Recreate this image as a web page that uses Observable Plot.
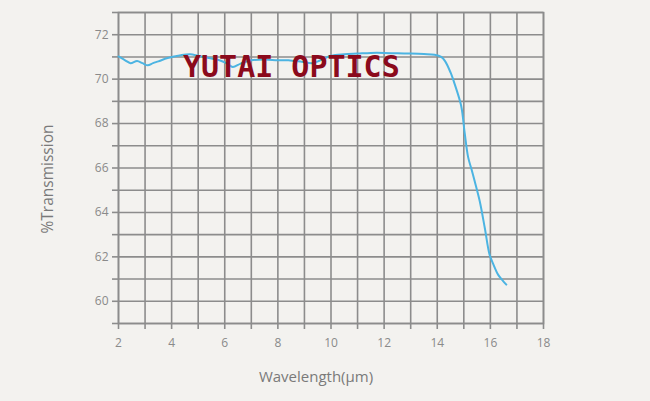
<!DOCTYPE html>
<html>
<head>
<meta charset="utf-8">
<script src="https://cdn.jsdelivr.net/npm/d3@7"></script>
<script src="https://cdn.jsdelivr.net/npm/@observablehq/plot@0.6"></script>
<style>
  html, body { margin: 0; padding: 0; background: #f3f2ef; }
  #chart { width: 650px; height: 401px; }
</style>
</head>
<body>
<div id="chart"></div>
<script>
const wavelength = [2.0, 2.25, 2.45, 2.7, 2.9, 3.1, 3.3, 3.5, 3.85, 4.35, 4.7, 5.0, 5.4, 5.8, 6.1, 6.3, 6.6, 7.0, 7.5, 8.0, 8.4, 8.9, 9.3, 9.6, 10.0, 10.5, 11.0, 11.5, 12.0, 12.5, 13.0, 13.5, 13.9, 14.15, 14.3, 14.5, 14.65, 14.9, 15.03, 15.16, 15.3, 15.41, 15.6, 15.79, 15.97, 16.1, 16.29, 16.45, 16.6];
const transmission = [71.02, 70.85, 70.72, 70.82, 70.72, 70.62, 70.72, 70.8, 70.95, 71.08, 71.12, 71.05, 70.95, 70.85, 70.7, 70.55, 70.7, 70.85, 70.88, 70.85, 70.85, 70.78, 70.72, 70.85, 71.05, 71.12, 71.15, 71.18, 71.18, 71.16, 71.15, 71.13, 71.1, 71.0, 70.8, 70.3, 69.8, 68.8, 67.6, 66.5, 65.9, 65.4, 64.5, 63.3, 62.1, 61.7, 61.2, 60.95, 60.75];
const xTicks = d3.range(2, 19, 1);
const yTicks = d3.range(59, 74, 1);
const xLabelTicks = [2, 4, 6, 8, 10, 12, 14, 16, 18];
const yLabelTicks = [60, 62, 64, 66, 68, 70, 72];
const xTitle = "Wavelength(μm)";
const yTitle = "%Transmission";
const watermark = "YUTAI OPTICS";

const data = wavelength.map((w, i) => ({w, t: transmission[i]}));
const gridColor = "#8c8c8c";
const textColor = "#8a8a8a";

const plot = Plot.plot({
  width: 650,
  height: 401,
  marginLeft: 118,
  marginRight: 107,
  marginTop: 12,
  marginBottom: 78,
  style: {background: "#f3f2ef", fontFamily: "Open Sans", fontSize: "12px", color: textColor},
  x: {domain: [2, 18]},
  y: {domain: [59, 73]},
  marks: [
    Plot.gridX(xTicks, {stroke: gridColor, strokeOpacity: 1, strokeWidth: 1.6}),
    Plot.gridY(yTicks, {stroke: gridColor, strokeOpacity: 1, strokeWidth: 1.6}),
    Plot.frame({stroke: gridColor, strokeWidth: 1.6}),
    Plot.axisX(xTicks, {tickSize: 6, tickPadding: 9, stroke: gridColor, strokeWidth: 1.6, fill: textColor,
      tickFormat: d => xLabelTicks.includes(d) ? String(d) : "", label: null}),
    Plot.axisY(yTicks, {tickSize: 6, tickPadding: 4, stroke: gridColor, strokeWidth: 1.6, fill: textColor,
      tickFormat: d => yLabelTicks.includes(d) ? String(d) : "", label: null}),
    Plot.line(data, {x: "w", y: "t", stroke: "#4cb4e2", strokeWidth: 2, curve: "catmull-rom"})
  ]
});

const svg = d3.select(plot);
svg.append("text")
  .attr("x", 316).attr("y", 382)
  .attr("text-anchor", "middle")
  .attr("fill", "#7a7a7a")
  .attr("font-family", "Open Sans")
  .attr("font-size", 15)
  .text(xTitle);

svg.append("text")
  .attr("transform", "translate(53,179) rotate(-90)")
  .attr("text-anchor", "middle")
  .attr("fill", "#7a7a7a")
  .attr("font-family", "Open Sans")
  .attr("font-size", 15.5)
  .text(yTitle);

svg.append("text")
  .attr("x", 183).attr("y", 77)
  .attr("text-anchor", "start")
  .attr("fill", "#8b0a1c")
  .attr("font-family", "DejaVu Sans Mono")
  .attr("font-weight", "bold")
  .attr("font-size", 30)
  .text(watermark);

document.getElementById("chart").append(plot);
</script>
</body>
</html>
